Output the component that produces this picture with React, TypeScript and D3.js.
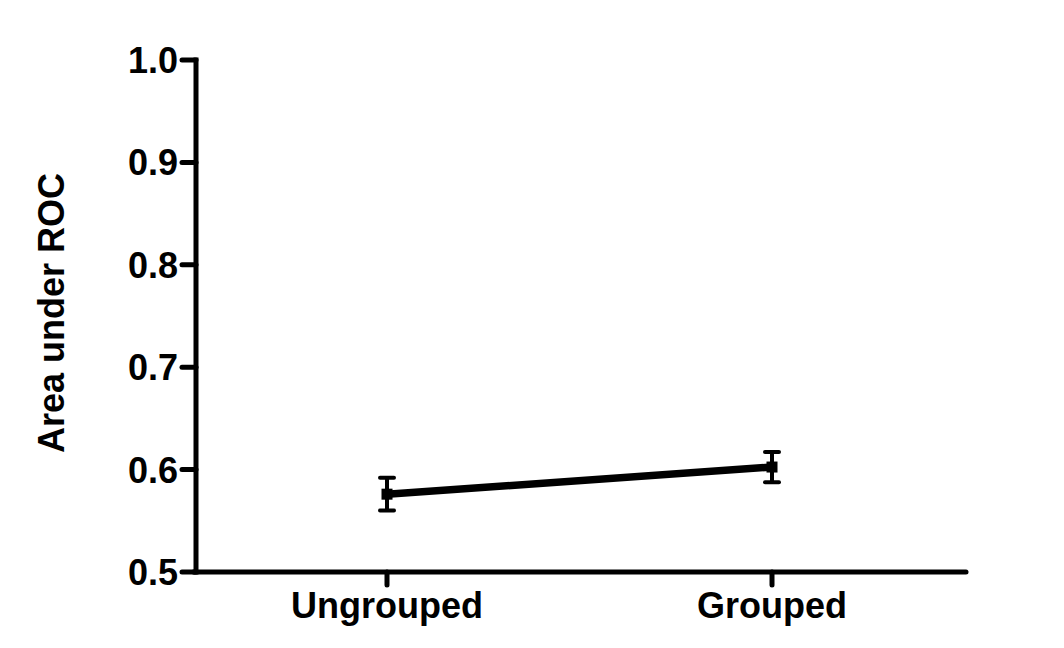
import React from "react";
import * as d3 from "d3";

const categories = ["Ungrouped", "Grouped"];
const means = [0.576, 0.6025];
const errors = [0.016, 0.0148];
const yTicks = [0.5, 0.6, 0.7, 0.8, 0.9, 1.0];

export default function App() {
  const W = 1064, H = 648;
  const x = d3.scalePoint<string>().domain(categories).range([387, 772]);
  const y = d3.scaleLinear().domain([0.5, 1.0]).range([572, 60]);
  const font = "Arial, 'Liberation Sans', sans-serif";
  const line = d3.line<number>().x((_, i) => x(categories[i])!).y((d) => y(d));
  return (
    <svg width={W} height={H} style={{ position: "absolute", left: 0, top: 0, background: "#fff" }}>
      {/* axes */}
      <line x1={196} x2={196} y1={57.5} y2={574.5} stroke="#000" strokeWidth={5} />
      <line x1={193.5} x2={966} y1={572} y2={572} stroke="#000" strokeWidth={5} strokeLinecap="round" />
      {yTicks.map((t) => (
        <g key={t}>
          <line x1={182} x2={196} y1={y(t)} y2={y(t)} stroke="#000" strokeWidth={5} strokeLinecap="round" />
          <text x={178} y={y(t)} dy="0.36em" textAnchor="end" fontFamily={font} fontWeight="bold" fontSize={36} fill="#000">
            {t.toFixed(1)}
          </text>
        </g>
      ))}
      {categories.map((c) => (
        <g key={c}>
          <line x1={x(c)} x2={x(c)} y1={572} y2={585} stroke="#000" strokeWidth={5} strokeLinecap="round" />
          <text x={x(c)} y={618} textAnchor="middle" fontFamily={font} fontWeight="bold" fontSize={36} fill="#000">
            {c}
          </text>
        </g>
      ))}
      <text transform={`translate(64,313) rotate(-90)`} textAnchor="middle" fontFamily={font} fontWeight="bold" fontSize={36} fill="#000">
        Area under ROC
      </text>
      {/* data line */}
      <path d={line(means)!} fill="none" stroke="#000" strokeWidth={7.5} />
      {means.map((m, i) => {
        const cx = x(categories[i])!;
        return (
          <g key={i}>
            <line x1={cx} x2={cx} y1={y(m + errors[i])} y2={y(m - errors[i])} stroke="#000" strokeWidth={4} />
            <line x1={cx - 7} x2={cx + 7} y1={y(m + errors[i])} y2={y(m + errors[i])} stroke="#000" strokeWidth={4} strokeLinecap="round" />
            <line x1={cx - 7} x2={cx + 7} y1={y(m - errors[i])} y2={y(m - errors[i])} stroke="#000" strokeWidth={4} strokeLinecap="round" />
            <rect x={cx - 5.5} y={y(m) - 5.5} width={11} height={11} fill="#000" />
          </g>
        );
      })}
    </svg>
  );
}
